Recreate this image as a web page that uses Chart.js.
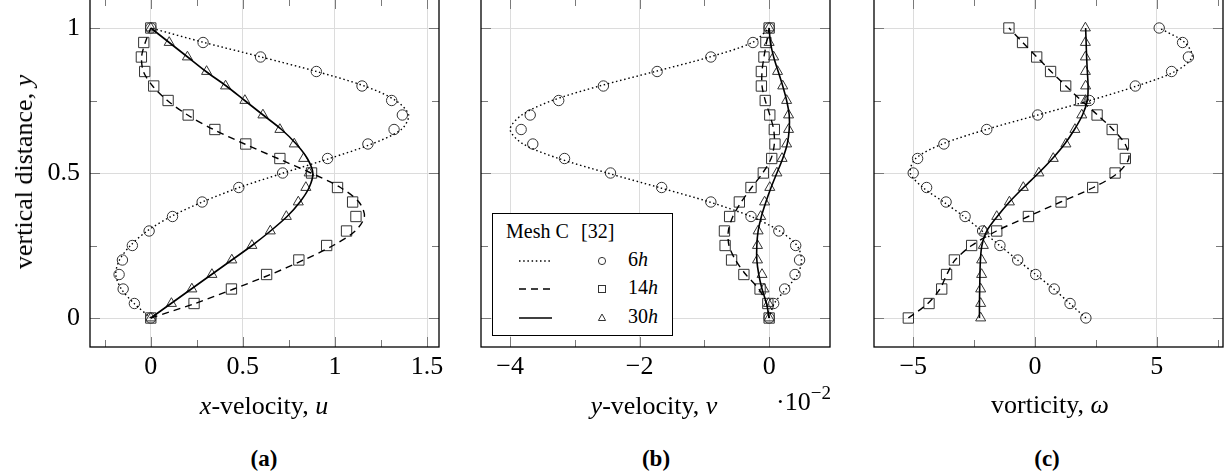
<!DOCTYPE html>
<html><head><meta charset="utf-8">
<script src="https://cdn.jsdelivr.net/npm/chart.js@4.4.1/dist/chart.umd.min.js"></script>
<style>
html,body{margin:0;padding:0;background:#fff}
body{width:1227px;height:475px;overflow:hidden;position:relative;font-family:"Liberation Serif","DejaVu Serif",serif;color:#000}
canvas{position:absolute}
.t{position:absolute;font-size:26px;line-height:26px;white-space:nowrap}
.c{transform:translateX(-50%)}
.cap{position:absolute;font-size:23px;line-height:23px;font-weight:bold;white-space:nowrap;transform:translateX(-50%)}
#ytitle{left:24px;top:172px;transform:translate(-50%,-50%) rotate(-90deg)}
#legend{position:absolute;left:492px;top:213px;width:179px;height:121px;border:1px solid #000;background:#fff;font-size:20px;line-height:20px;z-index:5}
#legend span{position:absolute;white-space:nowrap}
#legend svg{position:absolute;left:0;top:0}
sup{font-size:19px;vertical-align:0;position:relative;top:-11px}
</style>
</head><body>
<canvas id="ca" width="449" height="418" style="left:0px;top:-11px"></canvas>
<canvas id="cb" width="369" height="418" style="left:471px;top:-11px"></canvas>
<canvas id="cc" width="369" height="418" style="left:864px;top:-11px"></canvas>

<div class="t" id="ytitle">vertical distance, <i>y</i></div>
<div class="t c" style="left:264px;top:393px"><i>x</i>-velocity, <i>u</i></div>
<div class="t c" style="left:654px;top:393px"><i>y</i>-velocity, <i>v</i></div>
<div class="t" style="left:776px;top:389px">·10<sup>−2</sup></div>
<div class="t c" style="left:1050px;top:392px">vorticity, <i>ω</i></div>
<div class="cap" style="left:264px;top:447px">(a)</div>
<div class="cap" style="left:656px;top:447px">(b)</div>
<div class="cap" style="left:1047px;top:447px">(c)</div>

<div id="legend">
  <svg width="179" height="121">
    <line x1="26" y1="47" x2="59" y2="47" stroke="#000" stroke-width="1.4" stroke-dasharray="1.5 2.7"/>
    <line x1="26" y1="75" x2="59" y2="75" stroke="#000" stroke-width="1.4" stroke-dasharray="7 5"/>
    <line x1="26" y1="104" x2="59" y2="104" stroke="#000" stroke-width="1.6"/>
    <circle cx="109" cy="47" r="3.6" fill="none" stroke="#333" stroke-width="1"/>
    <rect x="105.5" y="71.5" width="7" height="7" fill="none" stroke="#333" stroke-width="1"/>
    <polygon points="109,100 112.6,106.5 105.4,106.5" fill="none" stroke="#333" stroke-width="1"/>
  </svg>
  <span style="left:13px;top:7px">Mesh C</span>
  <span style="left:88px;top:7px">[32]</span>
  <span style="left:135px;top:35px">6<i>h</i></span>
  <span style="left:135px;top:63px">14<i>h</i></span>
  <span style="left:135px;top:92px">30<i>h</i></span>
</div>

<script>
// ---------- data ----------
const yLevels = [0, 0.05, 0.1, 0.15, 0.2, 0.25, 0.3, 0.35, 0.4, 0.45, 0.5, 0.55, 0.6, 0.65, 0.7, 0.75, 0.8, 0.85, 0.9, 0.95, 1];

// (a) x-velocity u : Mesh C (lines) and [32] (markers)
const uMesh6  = [0, -0.09, -0.16, -0.19, -0.17, -0.11, -0.02, 0.11, 0.28, 0.48, 0.72, 0.97, 1.20, 1.36, 1.40, 1.33, 1.16, 0.90, 0.60, 0.29, 0];
const uMesh14 = [0, 0.24, 0.45, 0.65, 0.83, 0.99, 1.11, 1.16, 1.13, 1.03, 0.87, 0.69, 0.51, 0.34, 0.20, 0.09, 0.01, -0.04, -0.05, -0.03, 0];
const uMesh30 = [0, 0.11, 0.22, 0.33, 0.44, 0.55, 0.65, 0.74, 0.81, 0.86, 0.88, 0.85, 0.79, 0.71, 0.61, 0.51, 0.41, 0.30, 0.20, 0.10, 0];
const uRef6   = [0, -0.089, -0.150, -0.172, -0.154, -0.100, -0.009, 0.118, 0.279, 0.478, 0.716, 0.960, 1.179, 1.321, 1.366, 1.308, 1.147, 0.899, 0.596, 0.284, 0];
const uRef14  = [0, 0.235, 0.438, 0.629, 0.804, 0.955, 1.063, 1.114, 1.096, 1.014, 0.873, 0.701, 0.516, 0.348, 0.203, 0.094, 0.016, -0.033, -0.051, -0.038, 0];
const uRef30  = [0, 0.112, 0.223, 0.332, 0.440, 0.549, 0.649, 0.736, 0.801, 0.842, 0.860, 0.830, 0.779, 0.701, 0.609, 0.511, 0.406, 0.303, 0.199, 0.100, 0];

// (b) y-velocity v (x 10^-2)
const vMesh6  = [0, 0.08, 0.26, 0.44, 0.50, 0.43, 0.16, -0.28, -0.92, -1.70, -2.50, -3.25, -3.80, -4.00, -3.82, -3.35, -2.62, -1.76, -0.92, -0.26, 0];
const vMesh14 = [0, -0.04, -0.16, -0.36, -0.52, -0.62, -0.63, -0.56, -0.43, -0.27, -0.10, 0.03, 0.08, 0.07, 0.01, -0.06, -0.11, -0.11, -0.08, -0.04, 0];
const vMesh30 = [0, -0.04, -0.11, -0.16, -0.19, -0.19, -0.17, -0.12, -0.05, 0.03, 0.12, 0.21, 0.28, 0.31, 0.31, 0.27, 0.21, 0.14, 0.07, 0.02, 0];
const vRef6   = [0, 0.07, 0.24, 0.40, 0.47, 0.41, 0.15, -0.28, -0.90, -1.66, -2.45, -3.16, -3.65, -3.83, -3.69, -3.25, -2.56, -1.73, -0.90, -0.25, 0];
const vRef14  = [0, -0.02, -0.14, -0.39, -0.58, -0.68, -0.69, -0.61, -0.46, -0.28, -0.09, 0.04, 0.09, 0.08, 0.01, -0.06, -0.12, -0.12, -0.08, -0.05, 0];
const vRef30  = [0, -0.01, -0.08, -0.11, -0.18, -0.18, -0.17, -0.13, -0.07, 0.01, 0.12, 0.20, 0.27, 0.30, 0.30, 0.27, 0.21, 0.13, 0.07, 0.00, 0];

// (c) vorticity omega
const wMesh6  = [2.09, 1.43, 0.77, 0.03, -0.72, -1.45, -2.17, -2.92, -3.75, -4.60, -5.12, -4.90, -3.80, -2.00, 0.12, 2.25, 4.18, 5.75, 6.45, 6.15, 5.10];
const wMesh14 = [-5.20, -4.40, -3.90, -3.62, -3.28, -2.60, -1.58, -0.28, 1.05, 2.40, 3.40, 3.85, 3.70, 3.20, 2.57, 1.90, 1.27, 0.66, 0.08, -0.50, -1.07];
const wMesh30 = [-2.28, -2.28, -2.27, -2.26, -2.24, -2.18, -1.98, -1.55, -1.05, -0.47, 0.15, 0.72, 1.22, 1.62, 1.95, 2.15, 2.18, 2.15, 2.12, 2.10, 2.08];
const wRef6   = [2.09, 1.44, 0.79, 0.03, -0.71, -1.44, -2.15, -2.87, -3.65, -4.45, -5.00, -4.82, -3.74, -1.98, 0.11, 2.23, 4.12, 5.61, 6.30, 6.06, 5.10];
const wRef14  = [-5.20, -4.35, -3.83, -3.63, -3.31, -2.60, -1.57, -0.27, 1.07, 2.37, 3.29, 3.71, 3.63, 3.17, 2.55, 1.88, 1.26, 0.64, 0.07, -0.51, -1.07];
const wRef30  = [-2.23, -2.23, -2.23, -2.19, -2.19, -2.12, -2.08, -1.57, -1.05, -0.48, 0.16, 0.75, 1.27, 1.64, 1.92, 2.08, 2.08, 2.07, 2.07, 2.07, 2.07];

// ticks
const yTickVals   = [0, 0.25, 0.5, 0.75, 1];
const yTickLabels = ['0', '', '0.5', '', '1'];
const yMajor      = [0, 0.5, 1];
const uTickVals   = [-0.25, 0, 0.25, 0.5, 0.75, 1, 1.25, 1.5];
const uTickLabels = ['', '0', '', '0.5', '', '1', '', '1.5'];
const uMajor      = [0, 0.5, 1, 1.5];
const vTickVals   = [-4, -3, -2, -1, 0];
const vTickLabels = ['−4', '', '−2', '', '0'];
const vMajor      = [-4, -2, 0];
const wTickVals   = [-5, -2.5, 0, 2.5, 5, 7.5];
const wTickLabels = ['−5', '', '0', '', '5', ''];
const wMajor      = [-5, 0, 5];

// ---------- drawing ----------
const FONT = {family: '"Liberation Serif", "DejaVu Serif", serif', size: 26};
const LINE_STYLES = [
  {dash: [1.5, 2.7], width: 1.4},
  {dash: [7, 5], width: 1.4},
  {dash: [], width: 1.6}
];
const MARKS = [
  {style: 'circle', r: 5.2},
  {style: 'rect', r: 7.3},
  {style: 'triangle', r: 5.8}
];

const framePlugin = {
  id: 'frame',
  afterDatasetsDraw(chart, args, opts) {
    const {ctx, chartArea: a, scales} = chart;
    const xs = scales.x, ys = scales.y;
    ctx.save();
    ctx.strokeStyle = '#7a7a7a';
    ctx.lineWidth = 1;
    ctx.beginPath();
    xs.ticks.forEach(t => {
      const p = Math.round(xs.getPixelForValue(t.value)) + 0.5;
      const len = opts.xMajor.includes(t.value) ? 10 : 7;
      ctx.moveTo(p, a.bottom); ctx.lineTo(p, a.bottom - len);
      ctx.moveTo(p, a.top); ctx.lineTo(p, a.top + len);
    });
    ys.ticks.forEach(t => {
      const p = Math.round(ys.getPixelForValue(t.value)) + 0.5;
      const len = opts.yMajor.includes(t.value) ? 10 : 7;
      ctx.moveTo(a.left, p); ctx.lineTo(a.left + len, p);
      ctx.moveTo(a.right, p); ctx.lineTo(a.right - len, p);
    });
    ctx.stroke();
    ctx.strokeStyle = '#000';
    ctx.lineWidth = 1.3;
    ctx.strokeRect(a.left, a.top, a.right - a.left, a.bottom - a.top);
    ctx.restore();
  }
};

function pts(xs) { return xs.map((x, i) => ({x: x, y: yLevels[i]})); }

function makeChart(id, xmin, xmax, tickVals, tickLabels, major, meshes, refs, showY) {
  const datasets = [];
  meshes.forEach((m, i) => datasets.push({
    data: pts(m), showLine: true, pointRadius: 0, borderColor: '#000',
    borderWidth: LINE_STYLES[i].width, borderDash: LINE_STYLES[i].dash,
    tension: 0.3, fill: false
  }));
  refs.forEach((r, i) => datasets.push({
    data: pts(r), showLine: false, pointStyle: MARKS[i].style, pointRadius: MARKS[i].r,
    borderColor: '#333', pointBorderColor: '#333', pointBackgroundColor: 'rgba(0,0,0,0)',
    backgroundColor: 'rgba(0,0,0,0)', pointBorderWidth: 1, borderWidth: 1
  }));
  return new Chart(document.getElementById(id), {
    type: 'scatter',
    data: {datasets},
    plugins: [framePlugin],
    options: {
      responsive: false, animation: false, events: [],
      layout: {padding: {left: showY ? 0 : 10, right: 10, top: 10, bottom: 0}},
      plugins: {legend: {display: false}, tooltip: {enabled: false},
                frame: {xMajor: major, yMajor: yMajor}},
      scales: {
        x: {
          type: 'linear', min: xmin, max: xmax,
          afterBuildTicks: s => { s.ticks = tickVals.map(v => ({value: v})); },
          afterFit: s => { s.height = 60; s.paddingLeft = 0; s.paddingRight = 0; },
          grid: {drawTicks: false, lineWidth: 1,
                 color: c => (c.tick && major.includes(c.tick.value)) ? '#dcdcdc' : 'rgba(0,0,0,0)'},
          border: {display: false},
          ticks: {padding: 5, color: '#000', font: FONT, maxRotation: 0, autoSkip: false,
                  callback: v => tickLabels[tickVals.indexOf(v)]}
        },
        y: {
          type: 'linear', min: -0.1, max: 1.1,
          afterBuildTicks: s => { s.ticks = yTickVals.map(v => ({value: v})); },
          afterFit: s => { s.width = showY ? 90 : 0; s.paddingTop = 0; s.paddingBottom = 0; },
          grid: {drawTicks: false, lineWidth: 1,
                 color: c => (c.tick && yMajor.includes(c.tick.value)) ? '#dcdcdc' : 'rgba(0,0,0,0)'},
          border: {display: false},
          ticks: {display: showY, padding: 10, color: '#000', font: FONT, autoSkip: false,
                  callback: v => yTickLabels[yTickVals.indexOf(v)]}
        }
      }
    }
  });
}

makeChart('ca', -0.33, 1.565, uTickVals, uTickLabels, uMajor, [uMesh6, uMesh14, uMesh30], [uRef6, uRef14, uRef30], true);
makeChart('cb', -4.45, 0.94, vTickVals, vTickLabels, vMajor, [vMesh6, vMesh14, vMesh30], [vRef6, vRef14, vRef30], false);
makeChart('cc', -6.61, 7.72, wTickVals, wTickLabels, wMajor, [wMesh6, wMesh14, wMesh30], [wRef6, wRef14, wRef30], false);
</script>
</body></html>
